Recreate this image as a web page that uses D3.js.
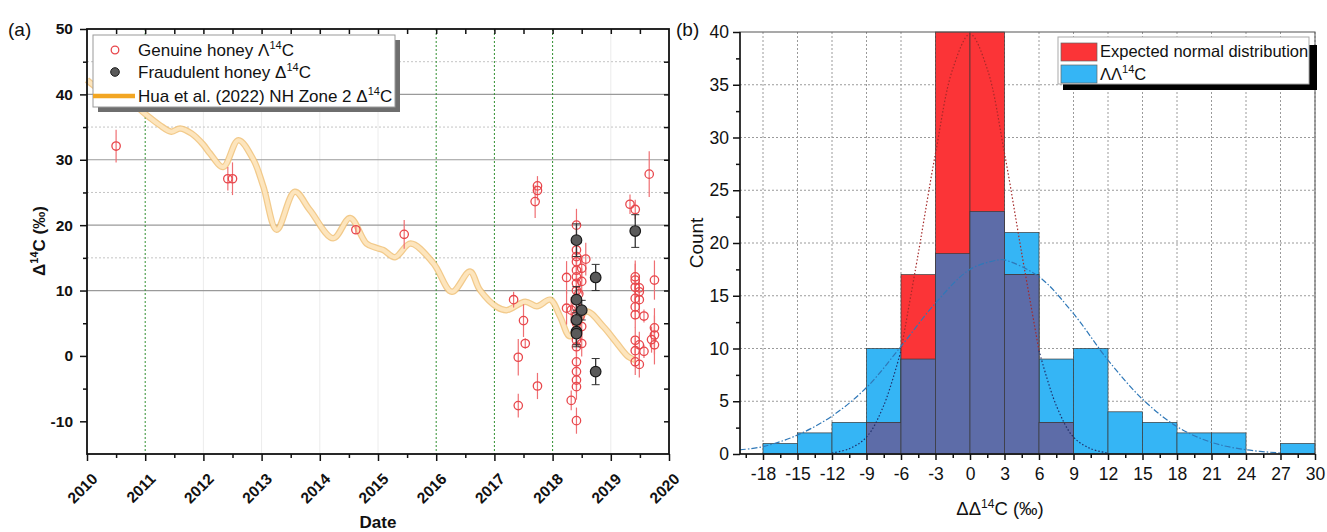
<!DOCTYPE html>
<html><head><meta charset="utf-8">
<script src="https://cdn.jsdelivr.net/npm/d3@7"></script>
<style>
body{margin:0;background:#fff}
svg{display:block;font-family:Arial,"Liberation Sans",Helvetica,sans-serif}
</style>
</head><body>
<svg id="c" width="1327" height="532"></svg>
<script>
// ---------------- DATA ----------------
const yearTicks = [2010, 2011, 2012, 2013, 2014, 2015, 2016, 2017, 2018, 2019, 2020];
const markedYears = [2011, 2016, 2017, 2018];
const d14cTicks = [-10, 0, 10, 20, 30, 40, 50];

// Hua et al. (2022) NH Zone 2 curve: [decimal year, Δ14C]
const huaYear = [2010.0, 2010.25, 2010.45, 2010.65, 2010.9, 2011.1, 2011.25, 2011.45, 2011.6, 2011.8, 2012.0, 2012.11, 2012.34, 2012.6, 2012.86, 2013.03, 2013.26, 2013.57, 2013.83, 2014.23, 2014.52, 2014.8, 2014.98, 2015.09, 2015.29, 2015.56, 2015.95, 2016.27, 2016.58, 2016.75, 2017.04, 2017.21, 2017.53, 2017.73, 2017.96, 2018.13, 2018.3, 2018.58, 2018.87, 2019.1, 2019.3, 2019.42];
const huaD14C = [42.2, 40.5, 39.8, 40.5, 37.8, 36.3, 35.3, 34.3, 34.8, 34.0, 32.3, 31.0, 28.9, 33.0, 30.0, 25.9, 19.3, 25.1, 22.3, 18.0, 21.1, 17.2, 16.5, 16.2, 15.1, 17.2, 14.2, 9.8, 12.9, 10.1, 7.5, 7.0, 8.3, 7.6, 8.6, 6.0, 3.0, 6.8, 4.5, 2.0, -0.1, -0.6];

// Genuine honey: [decimal year, Δ14C, 1σ]
const genuine = [
  [2010.5, 32.1, 2.5], [2012.42, 27.1, 1.8], [2012.5, 27.1, 2.5], [2014.62, 19.3, 0.6], [2015.45, 18.6, 2.2],
  [2017.33, 8.6, 1.2], [2017.5, 5.4, 2.5], [2017.53, 1.9, 0.8], [2017.41, -0.2, 2.8], [2017.41, -7.6, 1.8],
  [2017.74, -4.6, 2.0], [2017.74, 26.0, 1.5], [2017.74, 25.3, 1.5], [2017.7, 23.6, 2.5],
  [2018.41, 20.0, 2.5], [2018.41, 16.2, 2], [2018.41, 15.2, 2], [2018.41, 14.4, 2], [2018.41, 13.1, 2],
  [2018.41, 12.1, 2], [2018.41, 11.1, 2], [2018.41, 10.0, 2], [2018.41, 8.8, 2], [2018.41, 7.5, 2],
  [2018.41, 6.3, 2], [2018.41, 5.0, 2], [2018.41, 2.4, 2], [2018.41, 1.4, 2], [2018.41, -0.9, 2],
  [2018.41, -2.4, 2], [2018.41, -3.7, 2], [2018.41, -4.7, 2], [2018.41, -9.9, 2],
  [2018.32, -6.8, 1.5], [2018.24, 12.0, 2.5], [2018.24, 7.3, 2.5], [2018.32, 7.0, 2], [2018.5, 13.4, 2],
  [2018.5, 11.4, 2], [2018.5, 1.9, 2], [2018.57, 14.8, 2.5], [2018.5, 4.5, 2], [2018.45, 9.5, 2], [2018.47, 6.0, 2],
  [2019.33, 23.2, 1.5], [2019.42, 22.4, 1.5], [2019.42, 12.1, 2.5], [2019.42, 11.6, 2.5], [2019.42, 10.5, 2],
  [2019.42, 8.8, 2], [2019.42, 7.5, 2], [2019.42, 6.3, 2], [2019.42, 2.4, 2], [2019.42, 0.8, 2], [2019.42, -0.9, 2],
  [2019.49, 10.4, 2], [2019.49, 9.8, 2], [2019.49, 8.6, 2], [2019.49, 1.7, 2], [2019.49, -1.3, 2],
  [2019.57, 6.1, 1], [2019.57, 0.7, 1], [2019.75, 11.6, 3], [2019.75, 4.3, 3], [2019.75, 3.2, 3],
  [2019.75, 1.7, 3], [2019.7, 2.5, 2], [2019.66, 27.8, 3.5]
];
// Fraudulent honey: [decimal year, Δ14C, 1σ]
const fraudulent = [
  [2018.41, 17.7, 2.5], [2018.41, 8.6, 2], [2018.5, 7.0, 1.5], [2018.41, 5.5, 1.5], [2018.41, 3.7, 2],
  [2018.41, 3.4, 2], [2018.74, 12.0, 2], [2018.74, -2.4, 2], [2019.42, 19.1, 2.5]
];

// Histogram (panel b)
const binStart = [-18, -15, -12, -9, -6, -3, 0, 3, 6, 9, 12, 15, 18, 21, 24, 27];
const observedCounts = [1, 2, 3, 10, 9, 19, 23, 21, 9, 10, 4, 3, 2, 2, 0, 1];
const expectedCounts = [0, 0, 0, 3, 17, 40, 40, 17, 3, 0, 0, 0, 0, 0, 0, 0];
const expectedCurveX = [-12, -10.5, -9, -7.5, -6, -4.5, -3, -1.5, 0, 1.5, 3, 4.5, 6, 7.5, 9, 10.5, 12];
const expectedCurveY = [0.1, 0.5, 1.6, 4.6, 9.8, 19, 28.5, 36.5, 39.8, 36.5, 28.5, 19, 9.8, 4.6, 1.6, 0.5, 0.1];
const observedCurveX = [-20, -18, -15, -12, -9, -6, -3, 0, 2.5, 3, 6, 9, 12, 15, 18, 21, 24, 27];
const observedCurveY = [0.4, 0.7, 1.8, 3.6, 6.3, 10.2, 14.3, 17.5, 18.4, 18.4, 16.8, 13.3, 8.9, 5.2, 2.6, 1.1, 0.4, 0.1];
const countTicks = [0, 5, 10, 15, 20, 25, 30, 35, 40];
const diffTicks = [-18, -15, -12, -9, -6, -3, 0, 3, 6, 9, 12, 15, 18, 21, 24, 27, 30];

// ---------------- DRAW ----------------
const hyphenFmt = d => (d < 0 ? "-" + Math.abs(d) : String(d));
const svg = d3.select("#c");
svg.append("rect").attr("width", 1327).attr("height", 532).attr("fill", "#fff");

// ===== Panel (a) =====
const A = {l: 87, r: 669, t: 29, b: 454};
const xA = d3.scaleLinear().domain([2010, 2020]).range([A.l, A.r]);
const yA = d3.scaleLinear().domain([-15, 50]).range([A.b, A.t]);
const gA = svg.append("g");

gA.selectAll(".vf").data(yearTicks.filter(y => y > 2010 && y < 2020 && !markedYears.includes(y)))
  .join("line").attr("x1", d => xA(d)).attr("x2", d => xA(d)).attr("y1", A.t).attr("y2", A.b)
  .attr("stroke", "#ececec").attr("stroke-width", 1);
gA.selectAll(".hs").data([10, 20, 30, 40]).join("line")
  .attr("x1", A.l).attr("x2", A.r).attr("y1", d => yA(d)).attr("y2", d => yA(d))
  .attr("stroke", "#9a9a9a").attr("stroke-width", 1.2);
gA.selectAll(".hd").data([15, 25, 35, 45]).join("line")
  .attr("x1", A.l).attr("x2", A.r).attr("y1", d => yA(d)).attr("y2", d => yA(d))
  .attr("stroke", "#c4c4c4").attr("stroke-width", 1).attr("stroke-dasharray", "2,2");
gA.selectAll(".vg").data(markedYears).join("line")
  .attr("x1", d => xA(d)).attr("x2", d => xA(d)).attr("y1", A.t).attr("y2", A.b)
  .attr("stroke", "#2f8f2f").attr("stroke-width", 1).attr("stroke-dasharray", "2,2");

// Hua curve band
const hua = huaYear.map((y, i) => [y, huaD14C[i]]);
const huaLine = d3.line().x(d => xA(d[0])).y(d => yA(d[1])).curve(d3.curveCatmullRom.alpha(0.5));
gA.append("path").attr("d", huaLine(hua)).attr("fill", "none")
  .attr("stroke", "#efbd6e").attr("stroke-width", 6.5).attr("stroke-linejoin", "round").attr("opacity", 0.8);
gA.append("path").attr("d", huaLine(hua)).attr("fill", "none")
  .attr("stroke", "#fde5bd").attr("stroke-width", 4).attr("stroke-linejoin", "round");

// genuine error bars + points
gA.selectAll(".ge").data(genuine).join("line")
  .attr("x1", d => xA(d[0])).attr("x2", d => xA(d[0]))
  .attr("y1", d => yA(d[1] - d[2])).attr("y2", d => yA(d[1] + d[2]))
  .attr("stroke", "#ef6f73").attr("stroke-width", 1.2);
gA.selectAll(".gp").data(genuine).join("circle")
  .attr("cx", d => xA(d[0])).attr("cy", d => yA(d[1])).attr("r", 4.2)
  .attr("fill", "none").attr("stroke", "#e8474c").attr("stroke-width", 1.3);
// fraudulent
const fe = gA.selectAll(".fe").data(fraudulent).join("g");
fe.append("line").attr("x1", d => xA(d[0])).attr("x2", d => xA(d[0]))
  .attr("y1", d => yA(d[1] - d[2])).attr("y2", d => yA(d[1] + d[2]))
  .attr("stroke", "#333").attr("stroke-width", 1.3);
fe.append("line").attr("x1", d => xA(d[0]) - 4).attr("x2", d => xA(d[0]) + 4)
  .attr("y1", d => yA(d[1] - d[2])).attr("y2", d => yA(d[1] - d[2])).attr("stroke", "#333");
fe.append("line").attr("x1", d => xA(d[0]) - 4).attr("x2", d => xA(d[0]) + 4)
  .attr("y1", d => yA(d[1] + d[2])).attr("y2", d => yA(d[1] + d[2])).attr("stroke", "#333");
gA.selectAll(".fp").data(fraudulent).join("circle")
  .attr("cx", d => xA(d[0])).attr("cy", d => yA(d[1])).attr("r", 5.3)
  .attr("fill", "#5a5a5a").attr("stroke", "#1a1a1a").attr("stroke-width", 1.2);

// axes (a)
function styleAxis(g, fs, bold) {
  g.select(".domain").remove();
  g.selectAll("line").attr("stroke", "#111").attr("stroke-width", 1.5);
  g.selectAll("text").attr("font-size", fs).attr("font-weight", bold ? "bold" : "normal").attr("fill", "#111");
}
const halfYears = d3.range(2010.5, 2020, 1);
gA.append("g").attr("transform", `translate(${A.l},0)`)
  .call(d3.axisLeft(yA).tickValues(d14cTicks).tickSize(7).tickPadding(7).tickFormat(hyphenFmt).tickSizeOuter(0))
  .call(g => styleAxis(g, 15.5, true));
gA.append("g").attr("transform", `translate(${A.l},0)`)
  .call(d3.axisLeft(yA).tickValues([-5, 5, 15, 25, 35, 45]).tickSize(4).tickFormat("").tickSizeOuter(0))
  .call(g => styleAxis(g, 14, true));
gA.append("g").attr("transform", `translate(${A.r},0)`)
  .call(d3.axisLeft(yA).tickValues(d3.range(-10, 50, 5)).tickSize(5).tickFormat("").tickSizeOuter(0))
  .call(g => styleAxis(g, 14, true));
const bx = gA.append("g").attr("transform", `translate(0,${A.b})`)
  .call(d3.axisBottom(xA).tickValues(yearTicks).tickSize(7).tickFormat(d3.format("d")).tickSizeOuter(0))
  .call(g => styleAxis(g, 15.5, true));
bx.selectAll("text").attr("text-anchor", "end").attr("dy", 0).attr("y", 0)
  .attr("transform", "translate(11,26) rotate(-45)");
gA.append("g").attr("transform", `translate(0,${A.b})`)
  .call(d3.axisBottom(xA).tickValues(halfYears).tickSize(4).tickFormat("").tickSizeOuter(0))
  .call(g => styleAxis(g, 14, true));
gA.append("g").attr("transform", `translate(0,${A.t})`)
  .call(d3.axisBottom(xA).tickValues(d3.range(2010.5, 2020, 0.5)).tickSize(5).tickFormat("").tickSizeOuter(0))
  .call(g => styleAxis(g, 14, true));
gA.append("rect").attr("x", A.l).attr("y", A.t).attr("width", A.r - A.l).attr("height", A.b - A.t)
  .attr("fill", "none").attr("stroke", "#111").attr("stroke-width", 1.8);

// axis titles (a)
const yt = svg.append("text").attr("transform", `translate(45,241) rotate(-90)`)
  .attr("text-anchor", "middle").attr("font-size", 17).attr("font-weight", "bold").attr("fill", "#111");
yt.append("tspan").text("Δ");
yt.append("tspan").text("14").attr("font-size", 11).attr("dy", -7);
yt.append("tspan").text("C (‰)").attr("dy", 7);
svg.append("text").attr("x", 378).attr("y", 528).attr("text-anchor", "middle")
  .attr("font-size", 17).attr("font-weight", "bold").attr("fill", "#111").text("Date");
svg.append("text").attr("x", 8).attr("y", 36).attr("font-size", 19).attr("fill", "#111").text("(a)");

// legend (a)
const LA = svg.append("g");
LA.append("rect").attr("x", 98).attr("y", 40).attr("width", 302).attr("height", 72).attr("fill", "#6e6e6e");
LA.append("rect").attr("x", 93).attr("y", 35).attr("width", 302).attr("height", 72)
  .attr("fill", "#fff").attr("stroke", "#9a9a9a").attr("stroke-width", 1);
LA.append("circle").attr("cx", 115).attr("cy", 50).attr("r", 3.8).attr("fill", "none").attr("stroke", "#e8474c").attr("stroke-width", 1.3);
LA.append("circle").attr("cx", 115).attr("cy", 72).attr("r", 4.3).attr("fill", "#5a5a5a").attr("stroke", "#1a1a1a");
LA.append("line").attr("x1", 93).attr("x2", 135).attr("y1", 96).attr("y2", 96).attr("stroke", "#f2a623").attr("stroke-width", 4.5);
const legA = [["Genuine honey Λ", 56], ["Fraudulent honey Δ", 78], ["Hua et al. (2022) NH Zone 2 Δ", 102]];
legA.forEach(([t, y]) => {
  const tx = LA.append("text").attr("x", 138).attr("y", y).attr("font-size", 17).attr("fill", "#111");
  tx.append("tspan").text(t);
  tx.append("tspan").text("14").attr("font-size", 11).attr("dy", -7);
  tx.append("tspan").text("C").attr("dy", 7);
});

// ===== Panel (b) =====
const B = {l: 740, r: 1315, t: 32, b: 454};
const xB = d3.scaleLinear().domain([-20, 30]).range([B.l, B.r]);
const yB = d3.scaleLinear().domain([0, 40]).range([B.b, B.t]);
const gB = svg.append("g");

gB.selectAll(".bv").data(diffTicks).join("line")
  .attr("x1", d => xB(d)).attr("x2", d => xB(d)).attr("y1", B.t).attr("y2", B.b)
  .attr("stroke", "#9a9a9a").attr("stroke-width", 1).attr("stroke-dasharray", "2,2");
gB.selectAll(".bh").data(countTicks.filter(d => d > 0 && d < 40)).join("line")
  .attr("x1", B.l).attr("x2", B.r).attr("y1", d => yB(d)).attr("y2", d => yB(d))
  .attr("stroke", "#9a9a9a").attr("stroke-width", 1).attr("stroke-dasharray", "2,2");

const bins = binStart.map((s, i) => ({s, o: observedCounts[i], e: expectedCounts[i]}));
const bw = xB(3) - xB(0);
function bars(cls, val, color) {
  gB.selectAll("." + cls).data(bins.filter(d => val(d) > 0)).join("rect")
    .attr("x", d => xB(d.s)).attr("width", bw)
    .attr("y", d => yB(val(d))).attr("height", d => yB(0) - yB(val(d)))
    .attr("fill", color).attr("stroke", "#3a3a3a").attr("stroke-width", 0.7);
}
bars("ob", d => d.o, "#35b5f5");
bars("ex", d => d.e, "#fb3437");
bars("ov", d => Math.min(d.o, d.e), "#5d6ca8");

const expPts = expectedCurveX.map((x, i) => [x, expectedCurveY[i]]);
const obsPts = observedCurveX.map((x, i) => [x, observedCurveY[i]]);
const lineB = d3.line().x(d => xB(d[0])).y(d => yB(d[1])).curve(d3.curveCatmullRom.alpha(0.5));
gB.append("path").attr("d", lineB(expPts.filter(d => Math.abs(d[0]) <= 6))).attr("fill", "none")
  .attr("stroke", "#a52a2a").attr("stroke-width", 1.2).attr("stroke-dasharray", "1.5,2");
gB.append("path").attr("d", lineB(expPts.filter(d => d[0] <= -6))).attr("fill", "none")
  .attr("stroke", "#1f2f6a").attr("stroke-width", 1.2).attr("stroke-dasharray", "1.5,2");
gB.append("path").attr("d", lineB(expPts.filter(d => d[0] >= 6))).attr("fill", "none")
  .attr("stroke", "#1f2f6a").attr("stroke-width", 1.2).attr("stroke-dasharray", "1.5,2");
gB.append("path").attr("d", lineB(obsPts)).attr("fill", "none")
  .attr("stroke", "#2f78b8").attr("stroke-width", 1.2).attr("stroke-dasharray", "6,2,1.5,2");

gB.append("rect").attr("x", B.l).attr("y", B.t).attr("width", B.r - B.l).attr("height", B.b - B.t)
  .attr("fill", "none").attr("stroke", "#555").attr("stroke-width", 1);
gB.append("g").attr("transform", `translate(${B.l},0)`)
  .call(d3.axisLeft(yB).tickValues(countTicks).tickSize(7).tickPadding(4).tickSizeOuter(0))
  .call(g => styleAxis(g, 17.5, false));
gB.append("g").attr("transform", `translate(${B.l},0)`)
  .call(d3.axisLeft(yB).tickValues(d3.range(2.5, 40, 5)).tickSize(4).tickFormat("").tickSizeOuter(0))
  .call(g => styleAxis(g, 17, false));
gB.append("g").attr("transform", `translate(0,${B.b})`)
  .call(d3.axisBottom(xB).tickValues(diffTicks).tickSize(6).tickPadding(8).tickFormat(hyphenFmt).tickSizeOuter(0))
  .call(g => styleAxis(g, 17.5, false));
gB.append("g").attr("transform", `translate(0,${B.b})`)
  .call(d3.axisBottom(xB).tickValues(d3.range(-19.5, 30, 3)).tickSize(4).tickFormat("").tickSizeOuter(0))
  .call(g => styleAxis(g, 17, false));
gB.append("line").attr("x1", B.l).attr("x2", B.l).attr("y1", B.t).attr("y2", B.b).attr("stroke", "#111").attr("stroke-width", 1.5);
gB.append("line").attr("x1", B.l).attr("x2", B.r).attr("y1", B.b).attr("y2", B.b).attr("stroke", "#111").attr("stroke-width", 1.5);

svg.append("text").attr("transform", `translate(703,243) rotate(-90)`).attr("text-anchor", "middle")
  .attr("font-size", 19).attr("fill", "#111").text("Count");
const xtB = svg.append("text").attr("x", 1000).attr("y", 515).attr("text-anchor", "middle")
  .attr("font-size", 18.5).attr("fill", "#111");
xtB.append("tspan").text("ΔΔ");
xtB.append("tspan").text("14").attr("font-size", 12).attr("dy", -7);
xtB.append("tspan").text("C (‰)").attr("dy", 7);
svg.append("text").attr("x", 676).attr("y", 36).attr("font-size", 19).attr("fill", "#111").text("(b)");

// legend (b)
const LB = svg.append("g");
LB.append("rect").attr("x", 1063).attr("y", 45).attr("width", 254).attr("height", 45).attr("fill", "#000");
LB.append("rect").attr("x", 1058).attr("y", 37).attr("width", 251).attr("height", 47)
  .attr("fill", "#fff").attr("stroke", "#aaa").attr("stroke-width", 1);
LB.append("rect").attr("x", 1061).attr("y", 43).attr("width", 36).attr("height", 18).attr("fill", "#fb3437").attr("stroke", "#666").attr("stroke-width", 0.7);
LB.append("rect").attr("x", 1061).attr("y", 65).attr("width", 36).attr("height", 18).attr("fill", "#35b5f5").attr("stroke", "#666").attr("stroke-width", 0.7);
LB.append("text").attr("x", 1100).attr("y", 57).attr("font-size", 16.5).attr("fill", "#111").text("Expected normal distribution");
const lb2 = LB.append("text").attr("x", 1100).attr("y", 80).attr("font-size", 16.5).attr("fill", "#111");
lb2.append("tspan").text("ΛΛ");
lb2.append("tspan").text("14").attr("font-size", 11).attr("dy", -7);
lb2.append("tspan").text("C").attr("dy", 7);
</script>
</body></html>
